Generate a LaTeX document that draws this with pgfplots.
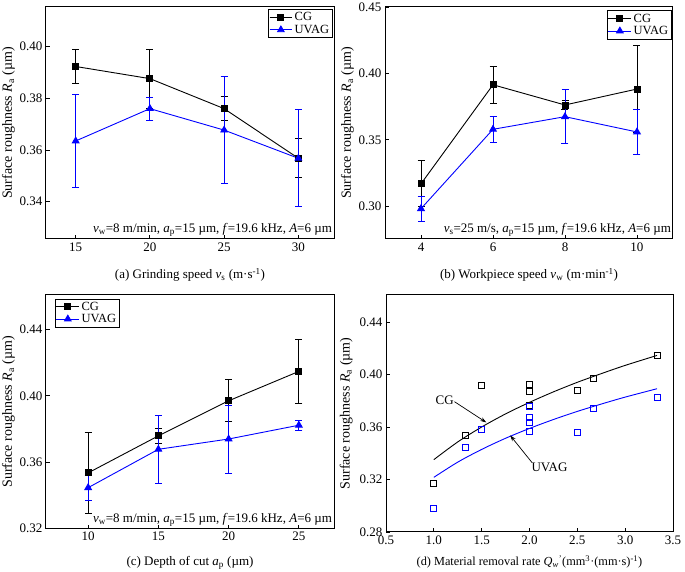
\documentclass[border=0pt]{standalone}
\usepackage{pgfplots}
\pgfplotsset{compat=1.18}
\usepackage{fontspec}
\setmainfont{Liberation Serif}
\usetikzlibrary{arrows.meta}
\pgfplotsset{
  every axis/.append style={
    scale only axis,
    font=\fontsize{13}{15}\selectfont,
    /pgf/number format/assume math mode=true,
    tick align=inside, xtick pos=bottom, ytick pos=left,
    axis line style={line width=1pt},
    every tick/.style={line width=0.9pt, black},
    major tick length=4pt,
    minor tick num=0,
    yticklabel style={/pgf/number format/.cd, fixed, fixed zerofill, precision=2},
    ylabel style={at={(axis description cs:-0.13,0.5)}, anchor=center, rotate=0, font=\fontsize{14}{16}\selectfont},
    legend cell align=left,
    legend style={draw=black, line width=0.7pt, font=\fontsize{12.5}{13}\selectfont, inner sep=1pt, row sep=-1.5pt},
    legend image code/.code={\draw[mark repeat=2,mark phase=2,#1] plot coordinates {(0cm,0cm) (0.4cm,0cm) (0.8cm,0cm)};},
  },
  cg/.style={black, line width=0.9pt, mark=square*, mark size=3pt, mark options={solid, fill=black},
     error bars/.cd, y dir=both, y explicit, error bar style={line width=0.9pt, black}, error mark options={rotate=90, mark size=3.5pt, line width=0.9pt, black}},
  uv/.style={blue, line width=0.9pt, mark=triangle*, mark size=3.8pt, mark options={solid, fill=blue},
     error bars/.cd, y dir=both, y explicit, error bar style={line width=0.9pt, blue}, error mark options={rotate=90, mark size=3.5pt, line width=0.9pt, blue}},
}
\newcommand{\ra}{Surface roughness \textit{R}\textsubscript{a} (µm)}
\begin{document}
\begin{tikzpicture}[x=1pt,y=1pt]
\useasboundingbox (0,0) rectangle (685,572);
% (a)
\begin{axis}[at={(46pt,333pt)}, anchor=south west, width=288pt, height=232pt,
  xmin=13, xmax=32.4, ymin=0.3256, ymax=0.4153,
  xtick={15,20,25,30}, ytick={0.34,0.36,0.38,0.40},
  ylabel={\ra},
  xlabel={(a) Grinding speed \textit{v}\textsubscript{s} (m·s\textsuperscript{-1})},
  xlabel style={at={(axis description cs:0.5,-0.155)}, anchor=center},
  legend style={at={(rel axis cs:0.995,0.99)}, anchor=north east}]
\addplot+[cg] coordinates {(15,0.3923) +- (0,0.0066) (20,0.3876) +- (0,0.0114) (25,0.3760) +- (0,0.0046) (30,0.3568) +- (0,0.0075)};
\addplot+[uv] coordinates {(15,0.3635) +- (0,0.0179) (20,0.3760) +- (0,0.0044) (25,0.3677) +- (0,0.0206) (30,0.3568) +- (0,0.0188)};
\legend{CG,UVAG}
\node[anchor=south east, inner sep=1pt] at (rel axis cs:0.997,0.005) {\textit{v}\textsubscript{w}=8 m/min, \textit{a}\textsubscript{p}=15 µm, \textit{f}=19.6 kHz, \textit{A}=6 µm};
\end{axis}
% (b)
\begin{axis}[at={(385pt,333pt)}, anchor=south west, width=288pt, height=232pt,
  xmin=3, xmax=11, ymin=0.2755, ymax=0.45,
  xtick={4,6,8,10}, ytick={0.30,0.35,0.40,0.45},
  ylabel={\ra},
  xlabel={(b) Workpiece speed \textit{v}\textsubscript{w} (m·min\textsuperscript{-1})},
  xlabel style={at={(axis description cs:0.5,-0.155)}, anchor=center},
  legend style={at={(rel axis cs:0.995,0.985)}, anchor=north east}]
\addplot+[cg] coordinates {(4,0.3170) +- (0,0.0173) (6,0.3915) +- (0,0.0137) (8,0.3763) +- (0,0.0034) (10,0.3883) +- (0,0.0330)};
\addplot+[uv] coordinates {(4,0.2983) +- (0,0.0093) (6,0.3580) +- (0,0.0100) (8,0.3675) +- (0,0.0205) (10,0.3560) +- (0,0.0170)};
\legend{CG,UVAG}
\node[anchor=south east, inner sep=1pt] at (rel axis cs:0.997,0.005) {\textit{v}\textsubscript{s}=25 m/s, \textit{a}\textsubscript{p}=15 µm,\ \textit{f}=19.6 kHz, \textit{A}=6 µm};
\end{axis}
% (c)
\begin{axis}[at={(46pt,43.3pt)}, anchor=south west, width=288pt, height=233.7pt,
  xmin=7, xmax=27.5, ymin=0.32, ymax=0.4607,
  xtick={10,15,20,25}, ytick={0.32,0.36,0.40,0.44},
  ylabel={\ra},
  xlabel={(c) Depth of cut \textit{a}\textsubscript{p} (µm)},
  xlabel style={at={(axis description cs:0.5,-0.147)}, anchor=center},
  legend style={at={(rel axis cs:0.03,0.985)}, anchor=north west}]
\addplot+[cg] coordinates {(10,0.3536) +- (0,0.0244) (15,0.3759) +- (0,0.0047) (20,0.3970) +- (0,0.0126) (25,0.4147) +- (0,0.0195)};
\addplot+[uv] coordinates {(10,0.3447) +- (0,0.0076) (15,0.3678) +- (0,0.0204) (20,0.3740) +- (0,0.0205) (25,0.3823) +- (0,0.0030)};
\legend{CG,UVAG}
\node[anchor=south east, inner sep=1pt] at (rel axis cs:0.997,0.005) {\textit{v}\textsubscript{w}=8 m/min, \textit{a}\textsubscript{p}=15 µm, \textit{f}=19.6 kHz, \textit{A}=6 µm};
\end{axis}
% (d)
\begin{axis}[at={(386pt,40pt)}, anchor=south west, width=287pt, height=237pt,
  xmin=0.5, xmax=3.5, ymin=0.28, ymax=0.4608,
  xtick={0.5,1.0,1.5,2.0,2.5,3.0,3.5}, ytick={0.28,0.32,0.36,0.40,0.44},
  xticklabel style={/pgf/number format/.cd, fixed, fixed zerofill, precision=1},
  ylabel={\ra},
  ylabel style={at={(axis description cs:-0.139,0.5)}},
  xlabel={(d) Material removal rate \textit{Q}\textsubscript{\textit{w}}\textsuperscript{'}(mm\textsuperscript{3}·(mm·s)\textsuperscript{-1})},
  xlabel style={at={(axis description cs:0.5,-0.127)}, anchor=center, font=\fontsize{12.3}{14}\selectfont}]
\addplot[only marks, black, mark=square, mark size=3pt, line width=0.8pt] coordinates {
(1.0,0.3168) (1.333,0.3536) (1.5,0.3915) (2.0,0.3923) (2.0,0.3876) (2.0,0.3760) (2.0,0.3568) (2.0,0.3763) (2.0,0.3759) (2.5,0.3883) (2.667,0.3970) (3.333,0.4147)};
\addplot[only marks, blue, mark=square, mark size=3pt, line width=0.8pt] coordinates {
(1.0,0.2983) (1.333,0.3447) (1.5,0.3580) (2.0,0.3635) (2.0,0.3760) (2.0,0.3677) (2.0,0.3568) (2.0,0.3675) (2.0,0.3678) (2.5,0.3560) (2.667,0.3740) (3.333,0.3823)};
\addplot[black, line width=0.9pt, smooth, no marks] coordinates {
(1.0,0.3352) (1.25,0.3487) (1.5,0.3601) (1.75,0.3701) (2.0,0.3789) (2.25,0.3869) (2.5,0.3942) (2.75,0.4008) (3.0,0.4071) (3.333,0.4147)};
\addplot[blue, line width=0.9pt, smooth, no marks] coordinates {
(1.0,0.3217) (1.25,0.3333) (1.5,0.3430) (1.75,0.3515) (2.0,0.3590) (2.25,0.3658) (2.5,0.3720) (2.75,0.3776) (3.0,0.3829) (3.333,0.3893)};
\node at (axis cs:1.113,0.3807) {CG};
\draw[-{Stealth[length=6pt,width=4pt]}, line width=0.7pt] (axis cs:1.216,0.3794) -- (axis cs:1.548,0.3636);
\node at (axis cs:2.209,0.3290) {UVAG};
\draw[-{Stealth[length=6pt,width=4pt]}, line width=0.7pt] (axis cs:2.027,0.3329) -- (axis cs:1.798,0.3537);
\end{axis}
\end{tikzpicture}
\end{document}
